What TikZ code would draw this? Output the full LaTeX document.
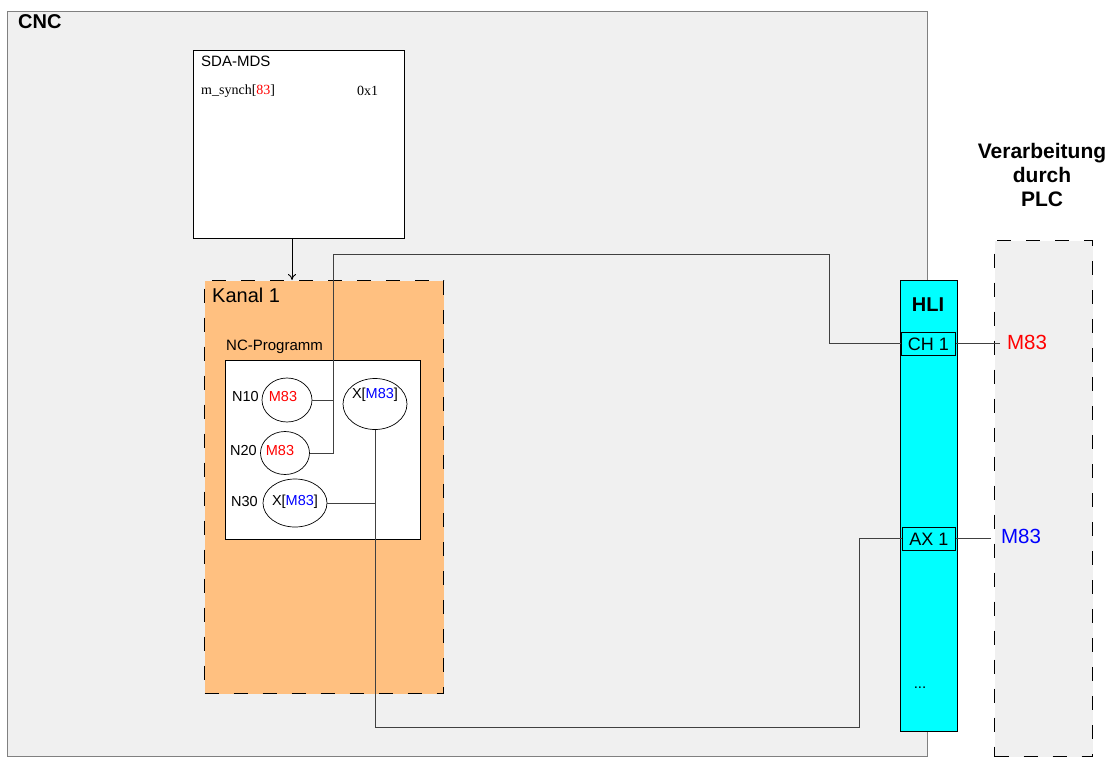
\documentclass[tikz,border=0pt]{standalone}
\usepackage{fontspec}
\setmainfont{Liberation Sans}
\newfontfamily\serifnc{Liberation Serif}
\usetikzlibrary{shapes.geometric,arrows.meta}
\definecolor{bggray}{HTML}{F0F0F0}
\definecolor{kanalor}{HTML}{FFC080}
\definecolor{hlicyan}{HTML}{00FFFF}
\definecolor{mred}{HTML}{FF0000}
\definecolor{mblue}{HTML}{0000FF}
\begin{document}
\begin{tikzpicture}[x=1pt,y=-1pt,
  box/.style={draw, inner sep=0pt, anchor=north west},
  dbox/.style={box, dash pattern=on 14pt off 15pt, line width=1.3pt},
  fs/.style={font=\fontsize{#1pt}{24pt}\selectfont},
  txt/.style={inner sep=0pt, anchor=west},
  ell/.style={ellipse, draw, fill=white, inner sep=0pt, line width=0.7pt},
  conn/.style={draw=black!75, line width=1pt}
]
\useasboundingbox (0,0) rectangle (1120,774);
% CNC
\node[box, draw=gray, line width=1pt, fill=bggray, minimum width=920pt, minimum height=745pt] (cnc) at (7,11) {};
\node[txt, font=\fontsize{20pt}{24pt}\selectfont\bfseries] (cnclabel) at (18,22) {CNC};
% PLC
\node[dbox, fill=bggray, minimum width=98pt, minimum height=516pt] (plc) at (994,240) {};
\node[align=center, inner sep=0pt, font=\fontsize{21pt}{24pt}\selectfont\bfseries] (plctitle) at (1042,175) {Verarbeitung\\durch\\PLC};
% SDA-MDS
\node[box, fill=white, line width=0.8pt, minimum width=211pt, minimum height=188pt] (sda) at (193,50) {};
\node[txt, fs=15] (sdat) at (201,61) {SDA-MDS};
\node[txt, font=\serifnc\fontsize{14pt}{16pt}\selectfont] (msynch) at (201,91) {m\_synch[\textcolor{mred}{83}]};
\node[txt, font=\serifnc\fontsize{14pt}{16pt}\selectfont] (val) at (357,91) {0x1};
% Kanal 1
\node[dbox, fill=kanalor, minimum width=239pt, minimum height=413pt] (kanal) at (204,280) {};
\node[txt, fs=20] (kanalt) at (212,295) {Kanal 1};
\node[txt, fs=15] (ncpt) at (226,347) {NC-Programm};
\node[box, fill=white, line width=0.8pt, minimum width=195pt, minimum height=179pt] (ncp) at (225,360) {};
% ellipses
\node[txt, fs=14.5] (n10) at (232,397) {N10};
\node[txt, fs=14.5] (n20) at (230,451) {N20};
\node[txt, fs=14.5] (n30) at (231,502) {N30};
\node[ell, minimum width=50pt, minimum height=44pt] (e10) at (287,400) {};
\node[inner sep=0pt, fs=14.5, text=mred] (e10t) at (283,397) {M83};
\node[ell, minimum width=49pt, minimum height=43pt] (e20) at (285,453) {};
\node[inner sep=0pt, fs=14.5, text=mred] (e20t) at (280,451) {M83};
\node[ell, minimum width=64pt, minimum height=48pt] (e30) at (295,503) {};
\node[inner sep=0pt, fs=14.5] (e30t) at (295,502) {X[\textcolor{mblue}{M83}]};
\node[ell, minimum width=64pt, minimum height=51pt] (ex) at (375,404) {};
\node[inner sep=0pt, fs=14.5] (ext) at (375,395) {X[\textcolor{mblue}{M83}]};
% connectors
\coordinate (t1) at (333,254);
\coordinate (t2) at (829,254);
\coordinate (b2) at (859,727);
\coordinate (a1) at (292,0);
\coordinate (c1) at (1000,0);
\coordinate (c2) at (991,0);
\draw[-{To[length=6pt,width=8pt]}, line width=0.9pt] (sda.south -| a1) -- (kanal.north -| a1);
% HLI
\node[box, fill=hlicyan, line width=1pt, minimum width=57pt, minimum height=451pt] (hli) at (900,280) {};
\node[inner sep=0pt, font=\fontsize{20pt}{24pt}\selectfont\bfseries] (hlit) at (928,305) {HLI};
\node[box, line width=0.8pt, minimum width=54pt, minimum height=23pt] (ch1) at (901,332) {};
\node[inner sep=0pt, fs=18] (ch1t) at (ch1.center) {CH 1};
\node[box, line width=0.8pt, minimum width=53pt, minimum height=23pt] (ax1) at (902,527) {};
\node[inner sep=0pt, fs=18] (ax1t) at (ax1.center) {AX 1};
\node[inner sep=0pt, fs=15] (dots) at (920,688) {...};
\draw[conn] (e10.east) -- (e10.east -| t1);
\draw[conn] (e20.east) -| (t1) -- (t2) |- (ch1.west);
\draw[conn] (ex.south) -- (ex.south |- b2) -- (b2) |- (ax1.west);
\draw[conn] (e30.east) -- (e30.east -| ex.south);
\draw[conn] (ch1.east) -- (ch1.east -| c1);
\draw[conn] (ax1.east) -- (ax1.east -| c2);
\node[inner sep=0pt, fs=20.5, text=mred] (m83r) at (1027,342) {M83};
\node[inner sep=0pt, fs=20.5, text=mblue] (m83b) at (1021,536) {M83};
\end{tikzpicture}
\end{document}
